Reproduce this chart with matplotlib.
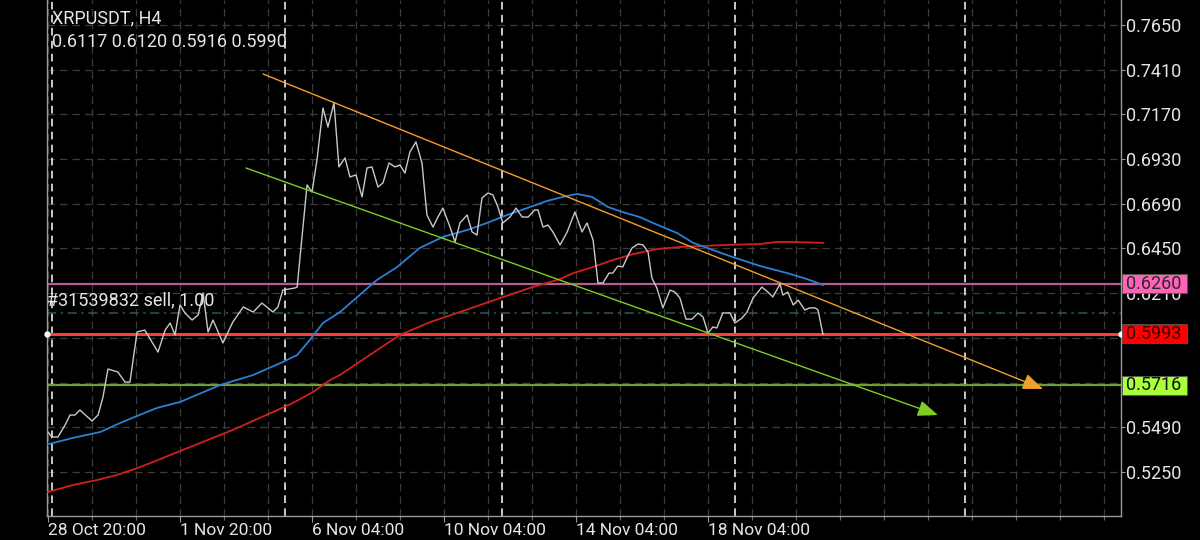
import matplotlib
matplotlib.use("Agg")
import matplotlib.pyplot as plt
from matplotlib.transforms import blended_transform_factory
from matplotlib.patches import Rectangle
from matplotlib.ticker import MultipleLocator

plt.rcParams['font.family'] = ['Roboto', 'DejaVu Sans']

# ---------------- data ----------------
symbol = "XRPUSDT, H4"
ohlc_text = "0.6117 0.6120 0.5916 0.5990"
order_text = "#31539832 sell, 1.00"

price_bars = [0, 0.7, 1.8, 3.1, 4.0, 4.9, 5.8, 8.0, 9.1, 10.0, 10.9, 12.7, 14.0, 14.9,
              16.2, 17.6, 20.0, 21.3, 22.2, 23.1, 24.0, 24.9, 26.2, 27.3, 28.2, 29.1,
              30.0, 31.8, 33.6, 35.5, 37.3, 38.9, 40.9, 41.8, 42.7, 44.9, 45.3, 47.1,
              48.0, 48.9, 50.0, 50.9, 52.0, 52.9, 54.0, 54.9, 56.0, 57.1, 58.0, 58.9,
              60.0, 60.9, 62.0, 63.1, 64.0, 64.9, 65.8, 66.9, 68.0, 68.9, 70.0, 70.9,
              71.8, 73.1, 74.0, 74.9, 76.2, 77.1, 78.0, 78.9, 80.0, 80.9, 81.8, 82.7,
              84.0, 85.1, 86.2, 87.3, 88.5, 89.1, 90.0, 90.9, 91.8, 93.1, 94.4, 95.8,
              97.1, 98.0, 99.1, 100.0, 100.9, 102.0, 102.7, 103.6, 104.5, 105.5, 106.2,
              107.3, 108.2, 109.1, 109.8, 110.7, 111.8, 113.1, 114.0, 114.9, 116.0,
              117.1, 118.2, 119.1, 120.0, 120.9, 121.6, 122.7, 124.0, 124.9, 126.2,
              127.1, 128.2, 129.8, 130.9, 131.8, 133.1, 133.6, 134.5, 135.5, 136.4,
              137.6, 138.5, 139.5, 140.0, 140.9]
price_close = [0.5465, 0.5438, 0.5438, 0.5502, 0.5556, 0.5556, 0.5583, 0.5524, 0.5556,
               0.5653, 0.5803, 0.5787, 0.5733, 0.5733, 0.6002, 0.6012, 0.5894, 0.6012,
               0.6050, 0.5986, 0.6147, 0.6104, 0.6066, 0.6093, 0.6211, 0.6002, 0.6066,
               0.5943, 0.6055, 0.6136, 0.6109, 0.6157, 0.6109, 0.6136, 0.6227, 0.6238,
               0.6243, 0.6791, 0.6753, 0.6925, 0.7204, 0.7102, 0.7231, 0.6888, 0.6936,
               0.6834, 0.6845, 0.6727, 0.6882, 0.6888, 0.6780, 0.6802, 0.6909, 0.6888,
               0.6898, 0.6855, 0.6968, 0.7022, 0.6909, 0.6630, 0.6565, 0.6619, 0.6667,
               0.6565, 0.6485, 0.6587, 0.6630, 0.6539, 0.6522, 0.6721, 0.6748, 0.6737,
               0.6673, 0.6587, 0.6619, 0.6667, 0.6619, 0.6619, 0.6657, 0.6657, 0.6565,
               0.6576, 0.6539, 0.6469, 0.6539, 0.6646, 0.6539, 0.6587, 0.6496, 0.6265,
               0.6265, 0.6318, 0.6318, 0.6356, 0.6351, 0.6415, 0.6453, 0.6474, 0.6469,
               0.6431, 0.6292, 0.6238, 0.6131, 0.6227, 0.6216, 0.6184, 0.6071, 0.6071,
               0.6104, 0.6082, 0.5996, 0.6029, 0.6023, 0.6104, 0.6104, 0.6050, 0.6077,
               0.6109, 0.6184, 0.6243, 0.6216, 0.6190, 0.6259, 0.6200, 0.6216, 0.6147,
               0.6173, 0.6120, 0.6131, 0.6131, 0.6120, 0.5990]

ma_fast_bars = [0, 0.9, 4.5, 9.5, 13.1, 16.2, 19.8, 24.0, 31.3, 37.3, 42.7, 45.3, 47.6,
                50.0, 53.1, 59.8, 63.5, 67.6, 71.8, 76.2, 79.8, 83.5, 87.1, 90.7, 93.6,
                96.2, 98.9, 101.8, 104.4, 107.6, 110.0, 114.4, 117.3, 120.4, 124.5,
                129.5, 134.4, 138.0, 140.9]
ma_fast = [0.5400, 0.5406, 0.5433, 0.5465, 0.5513, 0.5551, 0.5594, 0.5626, 0.5717,
           0.5771, 0.5841, 0.5878, 0.5959, 0.6050, 0.6109, 0.6281, 0.6351, 0.6453,
           0.6512, 0.6549, 0.6587, 0.6630, 0.6667, 0.6705, 0.6727, 0.6743, 0.6727,
           0.6673, 0.6646, 0.6619, 0.6587, 0.6533, 0.6480, 0.6447, 0.6404, 0.6356,
           0.6318, 0.6286, 0.6254]

ma_slow_bars = [0, 4.5, 8.9, 12.5, 16.2, 19.1, 22.2, 33.6, 40.9, 44.5, 48.2, 51.3, 53.1,
                58.5, 64.0, 69.5, 74.9, 82.2, 87.6, 93.1, 95.5, 99.1, 102.7, 106.4,
                110.7, 114.9, 118.5, 123.5, 129.5, 132.5, 135.5, 140.9]
ma_slow = [0.5143, 0.5180, 0.5207, 0.5234, 0.5271, 0.5304, 0.5341, 0.5476, 0.5572,
           0.5620, 0.5680, 0.5744, 0.5771, 0.5878, 0.5986, 0.6055, 0.6109, 0.6184,
           0.6238, 0.6286, 0.6318, 0.6351, 0.6388, 0.6420, 0.6447, 0.6458, 0.6463,
           0.6469, 0.6474, 0.6485, 0.6485, 0.6480]

upper_trend_bars = [39.1, 180.9]
upper_trend_prices = [0.7387, 0.5696]
lower_trend_bars = [36.0, 161.8]
lower_trend_prices = [0.6882, 0.5556]

level_pink = 0.6260
level_order = 0.5993
level_green = 0.5716
level_dashdot = 0.6103

separator_bars = [0.73, 43.1, 82.5, 124.9, 166.7]

y_ticks = [0.5250, 0.5490, 0.5730, 0.5970, 0.6210, 0.6450, 0.6690, 0.6930, 0.7170,
           0.7410, 0.7650]
y_hidden = [0.5730, 0.5970]   # covered by the price boxes in the reference
x_label_bars = [0, 24, 48, 72, 96, 120]
x_labels = ["28 Oct 20:00", "1 Nov 20:00", "6 Nov 04:00", "10 Nov 04:00",
            "14 Nov 04:00", "18 Nov 04:00"]
x_grid_step = 8

# ---------------- figure ----------------
fig = plt.figure(figsize=(12, 5.4), dpi=100, facecolor='black')
ax = fig.add_axes([46.7 / 1200, 24 / 540, (1120.7 - 46.7) / 1200, 516 / 540])
ax.set_facecolor('black')
ax.set_xlim(-0.236, 195.04)
ax.set_ylim(0.5014, 0.7784)

grid_kw = dict(color='#3c3c3c', lw=0.9, ls=(0, (6, 4)), zorder=0.5)
for yv in y_ticks:
    ax.axhline(yv, **grid_kw)
b = 0
while b < 195:
    ax.axvline(b, **grid_kw)
    b += x_grid_step
for sb in separator_bars:
    ax.axvline(sb, color='white', lw=1.1, ls=(0, (5, 3.5)), zorder=0.8)

# horizontal levels
ax.axhline(level_pink, color='#b85b8e', lw=1.6, zorder=2)
ax.axhline(level_dashdot, color='#2e5a4e', lw=1.1, ls=(0, (6, 3, 1.5, 3)), zorder=2)
ax.axhline(level_green, color='#6f9c34', lw=1.6, zorder=2)
ax.axhline(level_order, color='#ff3a3a', lw=2.2, zorder=2)
ax.plot([ax.get_xlim()[0], ax.get_xlim()[1]], [level_order, level_order], 'o',
        color='white', ms=3.5, clip_on=False, zorder=6)

# moving averages and price
ax.plot(ma_slow_bars, ma_slow, color='#d21f1f', lw=1.3, zorder=3)
ax.plot(ma_fast_bars, ma_fast, color='#2a7fd6', lw=1.3, zorder=3)
ax.plot(price_bars, price_close, color='#c9c9c9', lw=1.0, zorder=4)

# trend lines with arrowheads
for xs, ys, col in [(upper_trend_bars, upper_trend_prices, '#f2a02a'),
                    (lower_trend_bars, lower_trend_prices, '#7cce22')]:
    ax.annotate('', xy=(xs[1], ys[1]), xytext=(xs[0], ys[0]),
                arrowprops=dict(arrowstyle='-|>,head_length=0.95,head_width=0.38',
                                color=col, lw=1.0, mutation_scale=13,
                                shrinkA=0, shrinkB=0), zorder=5)

# axes styling
for s in ['left', 'right', 'bottom']:
    ax.spines[s].set_color('#9a9a9a')
    ax.spines[s].set_linewidth(1.0)
ax.spines['top'].set_visible(False)

ax.yaxis.tick_right()
ax.set_yticks(y_ticks)
ax.set_yticklabels(["" if v in y_hidden else f"{v:.4f}" for v in y_ticks])
ax.tick_params(axis='y', colors='#9a9a9a', labelcolor='#e6e6e6', labelsize=13,
               length=3, width=0.8, pad=1)
ax.set_xticks(x_label_bars)
ax.set_xticklabels(x_labels, ha='left')
ax.xaxis.set_minor_locator(MultipleLocator(x_grid_step))
ax.tick_params(axis='x', which='major', colors='#9a9a9a', labelcolor='#e6e6e6',
               labelsize=12.5, length=4, width=0.8, pad=1)
ax.tick_params(axis='x', which='minor', colors='#6a6a6a', length=3, width=0.8)

# right price boxes
trans = blended_transform_factory(ax.transAxes, ax.transData)
ylo, yhi = ax.get_ylim()
px_per_unit = 516 / (yhi - ylo)
half_h = 9.5 / px_per_unit
for val, bg, fg in [(level_pink, '#ff63b8', '#2a2a2a'),
                    (level_order, '#ff0000', '#3a0000'),
                    (level_green, '#a8ff3a', '#101010')]:
    ax.add_patch(Rectangle((1.001, val - half_h), 0.0605, 2 * half_h, transform=trans,
                           facecolor=bg, edgecolor='#555555', lw=0.6,
                           clip_on=False, zorder=7))
    ax.text(1.0045, val, f"{val:.4f}", transform=trans, color=fg, fontsize=13,
            va='center', ha='left', zorder=8, clip_on=False)

# order label
ax.annotate(order_text, xy=(0, level_dashdot), xycoords=trans,
            xytext=(0, 3), textcoords='offset points', color='#e6e6e6',
            fontsize=13, ha='left', va='bottom', zorder=8)

# top-left info
fig.text(52 / 1200, 1 - 18 / 540, symbol, color='#e6e6e6', fontsize=13,
         ha='left', va='center')
fig.text(52 / 1200, 1 - 42 / 540, ohlc_text, color='#e6e6e6', fontsize=13,
         ha='left', va='center')

fig.savefig('out.png', dpi=100, facecolor='black')
